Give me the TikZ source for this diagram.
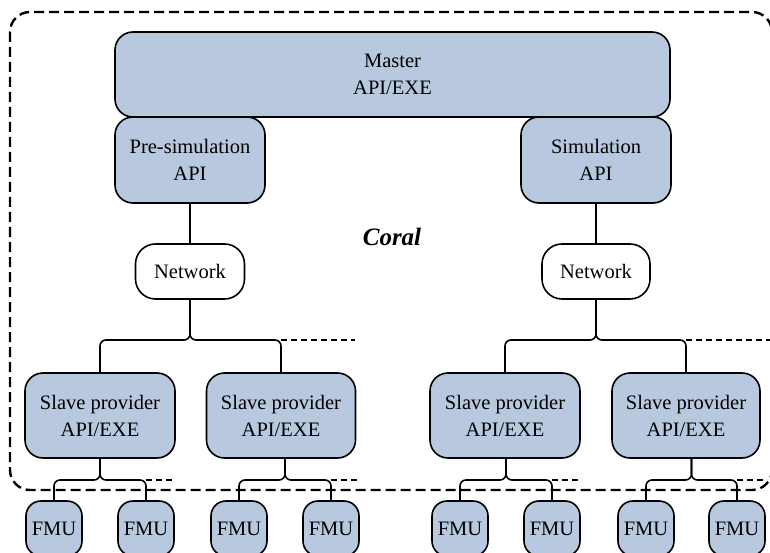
\documentclass[tikz,border=0pt]{standalone}
\usepackage{fontspec}
\setmainfont{Liberation Serif}
\definecolor{boxblue}{RGB}{183,200,223}
\begin{document}
\begin{tikzpicture}[x=1pt,y=-1pt,
  bluebox/.style={draw=black, line width=1.6pt, fill=boxblue, rounded corners=18pt, inner sep=0pt, align=center, font=\fontsize{20.5}{27}\selectfont},
  whitebox/.style={draw=black, line width=1.6pt, fill=white, rounded corners=20pt, inner sep=0pt, align=center, font=\fontsize{20.5}{27}\selectfont},
  fmubox/.style={draw=black, line width=1.6pt, fill=boxblue, rounded corners=15pt, inner sep=0pt, minimum width=56pt, minimum height=55pt, font=\fontsize{20.5}{27}\selectfont},
  conn/.style={draw=black, line width=1.6pt, rounded corners=6pt},
  dotconn/.style={draw=black, line width=1.6pt, dash pattern=on 6pt off 4pt},
  outer/.style={draw=black, line width=2.4pt, dash pattern=on 10pt off 5pt, rounded corners=20pt}]
\useasboundingbox (0,0) rectangle (770,553);
\clip (0,0) rectangle (770,553);
\draw[outer] (10,12) rectangle (772,490);

\node[bluebox, minimum width=555pt, minimum height=85pt] (master) at (392.5,74.5) {Master\\API/EXE};
\node[bluebox, minimum width=150pt, minimum height=86pt] (presim) at (190,160) {Pre-simulation\\API};
\node[bluebox, minimum width=150pt, minimum height=86pt] (sim) at (596,160) {Simulation\\API};
\node[font=\fontsize{25}{30}\selectfont\bfseries\itshape] (coral) at (392,237) {Coral};

\node[whitebox, minimum width=109pt, minimum height=55pt] (net1) at (190,271.5) {Network};
\node[whitebox, minimum width=108pt, minimum height=55pt] (net2) at (596,271.5) {Network};

\node[bluebox, minimum width=150pt, minimum height=85pt] (s1) at (100,415.5) {Slave provider\\API/EXE};
\node[bluebox, minimum width=149pt, minimum height=85pt] (s2) at (281,415.5) {Slave provider\\API/EXE};
\node[bluebox, minimum width=150pt, minimum height=85pt] (s3) at (505,415.5) {Slave provider\\API/EXE};
\node[bluebox, minimum width=148pt, minimum height=85pt] (s4) at (686,415.5) {Slave provider\\API/EXE};

\node[fmubox] (f1) at (54,528.5) {FMU};
\node[fmubox] (f2) at (146,528.5) {FMU};
\node[fmubox] (f3) at (239,528.5) {FMU};
\node[fmubox] (f4) at (331,528.5) {FMU};
\node[fmubox] (f5) at (460,528.5) {FMU};
\node[fmubox] (f6) at (552,528.5) {FMU};
\node[fmubox] (f7) at (646,528.5) {FMU};
\node[fmubox] (f8) at (737,528.5) {FMU};

% junctions
\coordinate (ja) at (190,340);
\coordinate (jb) at (596,340);
\coordinate (j1) at (100,480);
\coordinate (j2) at (285,480);
\coordinate (j3) at (506,480);
\coordinate (j4) at (691.5,480);
\coordinate (ea) at (355,340);
\coordinate (eb) at (770,340);
\coordinate (e1) at (172,480);
\coordinate (e2) at (358,480);
\coordinate (e3) at (578,480);
\coordinate (e4) at (767,480);

\draw[conn] (presim.south) -- (net1.north);
\draw[conn] (sim.south) -- (net2.north);

\draw[conn] (net1.south) -- (ja) -| (s1.north);
\draw[conn] (net1.south) -- (ja) -| (s2.north);
\draw[dotconn] (s2.north |- ea) -- (ea);
\draw[conn] (net2.south) -- (jb) -| (s3.north);
\draw[conn] (net2.south) -- (jb) -| (s4.north);
\draw[dotconn] (s4.north |- eb) -- (eb);

\draw[conn] (j1 |- s1.south) -- (j1) -| (f1.north);
\draw[conn] (j1 |- s1.south) -- (j1) -| (f2.north);
\draw[dotconn] (f2.north |- e1) -- (e1);
\draw[conn] (j2 |- s2.south) -- (j2) -| (f3.north);
\draw[conn] (j2 |- s2.south) -- (j2) -| (f4.north);
\draw[dotconn] (f4.north |- e2) -- (e2);
\draw[conn] (j3 |- s3.south) -- (j3) -| (f5.north);
\draw[conn] (j3 |- s3.south) -- (j3) -| (f6.north);
\draw[dotconn] (f6.north |- e3) -- (e3);
\draw[conn] (j4 |- s4.south) -- (j4) -| (f7.north);
\draw[conn] (j4 |- s4.south) -- (j4) -| (f8.north);
\draw[dotconn] (f8.north |- e4) -- (e4);
\end{tikzpicture}
\end{document}
